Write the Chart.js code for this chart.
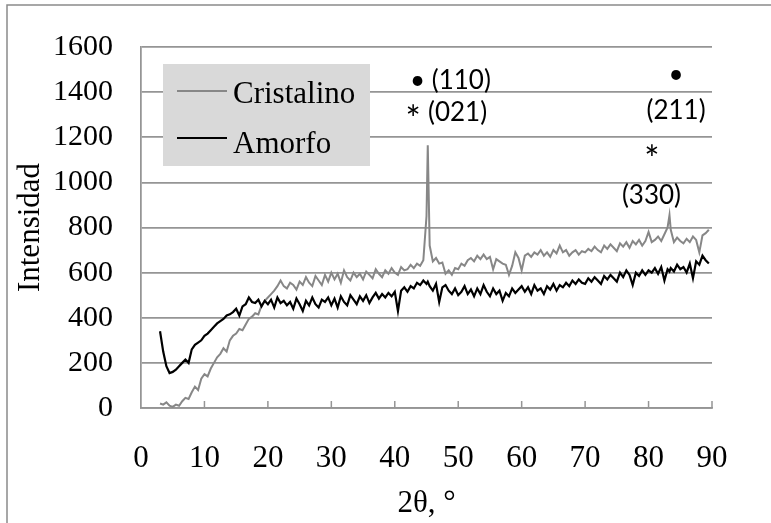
<!DOCTYPE html>
<html>
<head>
<meta charset="utf-8">
<script src="https://cdn.jsdelivr.net/npm/chart.js@4.4.1/dist/chart.umd.min.js"></script>
<style>
  html, body { margin: 0; padding: 0; background: #ffffff; }
  #wrap { width: 771px; height: 523px; position: relative; }
</style>
</head>
<body>
<div id="wrap"><canvas id="c" width="771" height="523"></canvas></div>
<script>
// ---------- DATA ----------
const seriesNames = ['Cristalino', 'Amorfo'];
const xTickLabels = [0, 10, 20, 30, 40, 50, 60, 70, 80, 90];
const yTickLabels = [0, 200, 400, 600, 800, 1000, 1200, 1400, 1600];

// 2θ (degrees)
const theta = [
  3,3.5,4,4.5,5,5.5,6,6.5,7,7.5,8,8.5,9,9.5,
  10,10.5,11,11.5,12,12.5,13,13.5,14,14.5,15,15.5,16,16.5,17,17.5,18,18.5,19,19.5,
  20,20.5,21,21.5,22,22.5,23,23.5,24,24.5,25,25.5,26,26.5,27,27.5,28,28.5,29,29.5,
  30,30.5,31,31.5,32,32.5,33,33.5,34,34.5,35,35.5,36,36.5,37,37.5,38,38.5,39,39.5,
  40,40.5,41,41.5,42,42.5,43,43.5,44,44.5,45,45.2,45.5,46,46.5,47,47.5,48,48.5,49,49.5,
  50,50.5,51,51.5,52,52.5,53,53.5,54,54.5,55,55.5,56,56.5,57,57.5,58,58.5,59,59.5,
  60,60.5,61,61.5,62,62.5,63,63.5,64,64.5,65,65.5,66,66.5,67,67.5,68,68.5,69,69.5,
  70,70.5,71,71.5,72,72.5,73,73.5,74,74.5,75,75.5,76,76.5,77,77.5,78,78.5,79,79.5,
  80,80.5,81,81.5,82,82.5,83,83.3,83.5,84,84.5,85,85.5,86,86.5,87,87.5,88,88.5,89,89.5
];

// Intensity – Cristalino (grey)
const cristalino = [
  20,15,25,10,5,15,10,30,45,40,70,95,80,130,
  150,140,175,200,225,240,265,250,300,320,330,350,345,370,395,405,420,415,455,475,
  490,505,520,540,565,540,530,555,545,525,560,545,580,555,540,585,565,545,590,560,
  600,570,595,555,610,580,565,600,580,595,570,605,590,575,615,595,580,610,595,620,
  600,590,625,610,615,635,620,640,630,655,850,1165,720,650,665,640,645,595,610,590,620,
  615,640,630,655,665,650,675,660,680,660,670,615,660,650,640,635,590,630,690,665,
  610,675,685,670,690,680,700,675,690,670,700,685,720,690,700,675,690,700,680,695,
  690,705,695,715,700,690,720,705,725,710,695,730,715,735,710,740,725,745,720,740,
  780,735,745,760,740,770,800,855,790,735,755,740,730,750,735,760,745,690,765,775,790
];

// Intensity – Amorfo (black)
const amorfo = [
  340,250,185,155,160,170,185,200,215,200,260,280,290,300,
  320,330,345,360,375,385,395,410,415,425,440,410,450,460,490,470,465,480,450,475,
  460,480,445,490,465,475,455,470,440,485,460,430,475,455,490,460,445,480,470,490,
  455,485,445,495,470,455,500,480,460,495,475,500,465,490,510,485,505,490,510,495,
  515,430,520,535,515,540,530,555,545,565,550,560,540,520,550,470,535,545,520,505,530,
  500,515,540,505,525,495,530,505,545,515,495,530,505,520,475,510,495,530,510,525,
  540,515,535,505,545,520,530,505,540,525,550,520,545,535,555,540,565,550,570,555,
  550,575,560,580,565,550,585,570,590,575,560,600,580,610,590,545,600,585,610,590,
  610,600,620,595,625,565,615,605,620,605,635,615,625,600,640,575,650,635,675,655,640
];

// Peak labels
const peakLabels = ['\u2022 (110)', '*', '(021)', '\u2022', '(211)', '*', '(330)'];

// ---------- STYLE ----------
const GRID = '#959595';
const GREY = '#878787';
const SERIF = '"Liberation Serif", "Times New Roman", serif';
const SANS = 'Lato, "Open Sans", sans-serif';

const decor = {
  id: 'decor',
  afterDraw(chart) {
    const ctx = chart.ctx;
    const xs = chart.scales.x, ys = chart.scales.y;
    const area = chart.chartArea;
    ctx.save();
    // outer frame (top + left visible)
    ctx.strokeStyle = '#8a8a8a';
    ctx.lineWidth = 1.5;
    ctx.beginPath();
    ctx.moveTo(7, 523); ctx.lineTo(7, 5); ctx.lineTo(771, 5);
    ctx.stroke();

    // inside tick marks on x axis
    ctx.strokeStyle = GRID;
    ctx.lineWidth = 1.5;
    xs.ticks.forEach(t => {
      if (t.value === 0) return;
      const px = xs.getPixelForValue(t.value);
      ctx.beginPath();
      ctx.moveTo(px, area.bottom);
      ctx.lineTo(px, area.bottom - 7);
      ctx.stroke();
    });

    // legend
    ctx.fillStyle = '#d9d9d9';
    ctx.fillRect(163, 64, 207, 102);
    const legendRows = [{y: 91, base: 103}, {y: 138, base: 153}];
    chart.data.datasets.forEach((ds, i) => {
      const r = legendRows[i];
      ctx.strokeStyle = ds.borderColor;
      ctx.lineWidth = 2;
      ctx.beginPath();
      ctx.moveTo(177, r.y); ctx.lineTo(227, r.y);
      ctx.stroke();
      ctx.fillStyle = '#000';
      ctx.font = '31px ' + SERIF;
      ctx.textAlign = 'left';
      ctx.textBaseline = 'alphabetic';
      ctx.fillText(ds.label, 233, r.base);
    });

    // peak annotations (anchored in data coordinates)
    ctx.fillStyle = '#000';
    ctx.textBaseline = 'middle';
    const ann = [
      {t: peakLabels[0], x: 42.40, y: 1449, a: 'left', s: 26},
      {t: peakLabels[1], x: 42.90, y: 1275, a: 'center', s: 36},
      {t: peakLabels[2], x: 45.24, y: 1307, a: 'left', s: 26},
      {t: peakLabels[3], x: 84.33, y: 1476, a: 'center', s: 26},
      {t: peakLabels[4], x: 84.33, y: 1316, a: 'center', s: 26},
      {t: peakLabels[5], x: 80.54, y: 1098, a: 'center', s: 36},
      {t: peakLabels[6], x: 80.46, y: 940, a: 'center', s: 26}
    ];
    ann.forEach(a => {
      ctx.font = a.s + 'px ' + SANS;
      ctx.textAlign = a.a;
      ctx.fillText(a.t, xs.getPixelForValue(a.x), ys.getPixelForValue(a.y));
    });
    ctx.restore();
  }
};

new Chart(document.getElementById('c'), {
  type: 'line',
  data: {
    datasets: [
      {
        label: seriesNames[0],
        data: theta.map((t, i) => ({x: t, y: cristalino[i]})),
        borderColor: GREY,
        borderWidth: 2,
        pointRadius: 0,
        tension: 0,
        order: 1
      },
      {
        label: seriesNames[1],
        data: theta.map((t, i) => ({x: t, y: amorfo[i]})),
        borderColor: '#000000',
        borderWidth: 2.2,
        pointRadius: 0,
        tension: 0,
        order: 0
      }
    ]
  },
  options: {
    responsive: false,
    animation: false,
    devicePixelRatio: 1,
    layout: { padding: { left: 12, top: 47, right: 59, bottom: 0 } },
    plugins: { legend: { display: false }, tooltip: { enabled: false } },
    scales: {
      x: {
        type: 'linear',
        min: 0, max: 90,
        afterBuildTicks(s) { s.ticks = xTickLabels.map(v => ({value: v})); },
        afterFit(s) { s.height = 115; },
        grid: { drawOnChartArea: false, drawTicks: false },
        border: { display: true, color: GRID, width: 1.75 },
        ticks: {
          padding: 32,
          color: '#000',
          font: { family: SERIF, size: 31 },
          maxRotation: 0,
          autoSkip: false,
          callback: v => String(v)
        },
        title: {
          display: true,
          text: '2\u03b8, \u00b0',
          color: '#000',
          font: { family: SERIF, size: 31 },
          padding: { top: 0, bottom: 1 }
        }
      },
      y: {
        min: 0, max: 1600,
        afterBuildTicks(s) { s.ticks = yTickLabels.map(v => ({value: v})); },
        afterFit(s) { s.width = 129; },
        grid: { color: GRID, lineWidth: 1.75, drawTicks: false },
        border: { display: true, color: GRID, width: 1.75 },
        ticks: {
          padding: 28,
          color: '#000',
          font: { family: SERIF, size: 30 },
          callback: v => String(v)
        },
        title: {
          display: true,
          text: 'Intensidad',
          color: '#000',
          font: { family: SERIF, size: 31 },
          padding: { top: 0, bottom: 0 }
        }
      }
    }
  },
  plugins: [decor]
});
</script>
</body>
</html>
